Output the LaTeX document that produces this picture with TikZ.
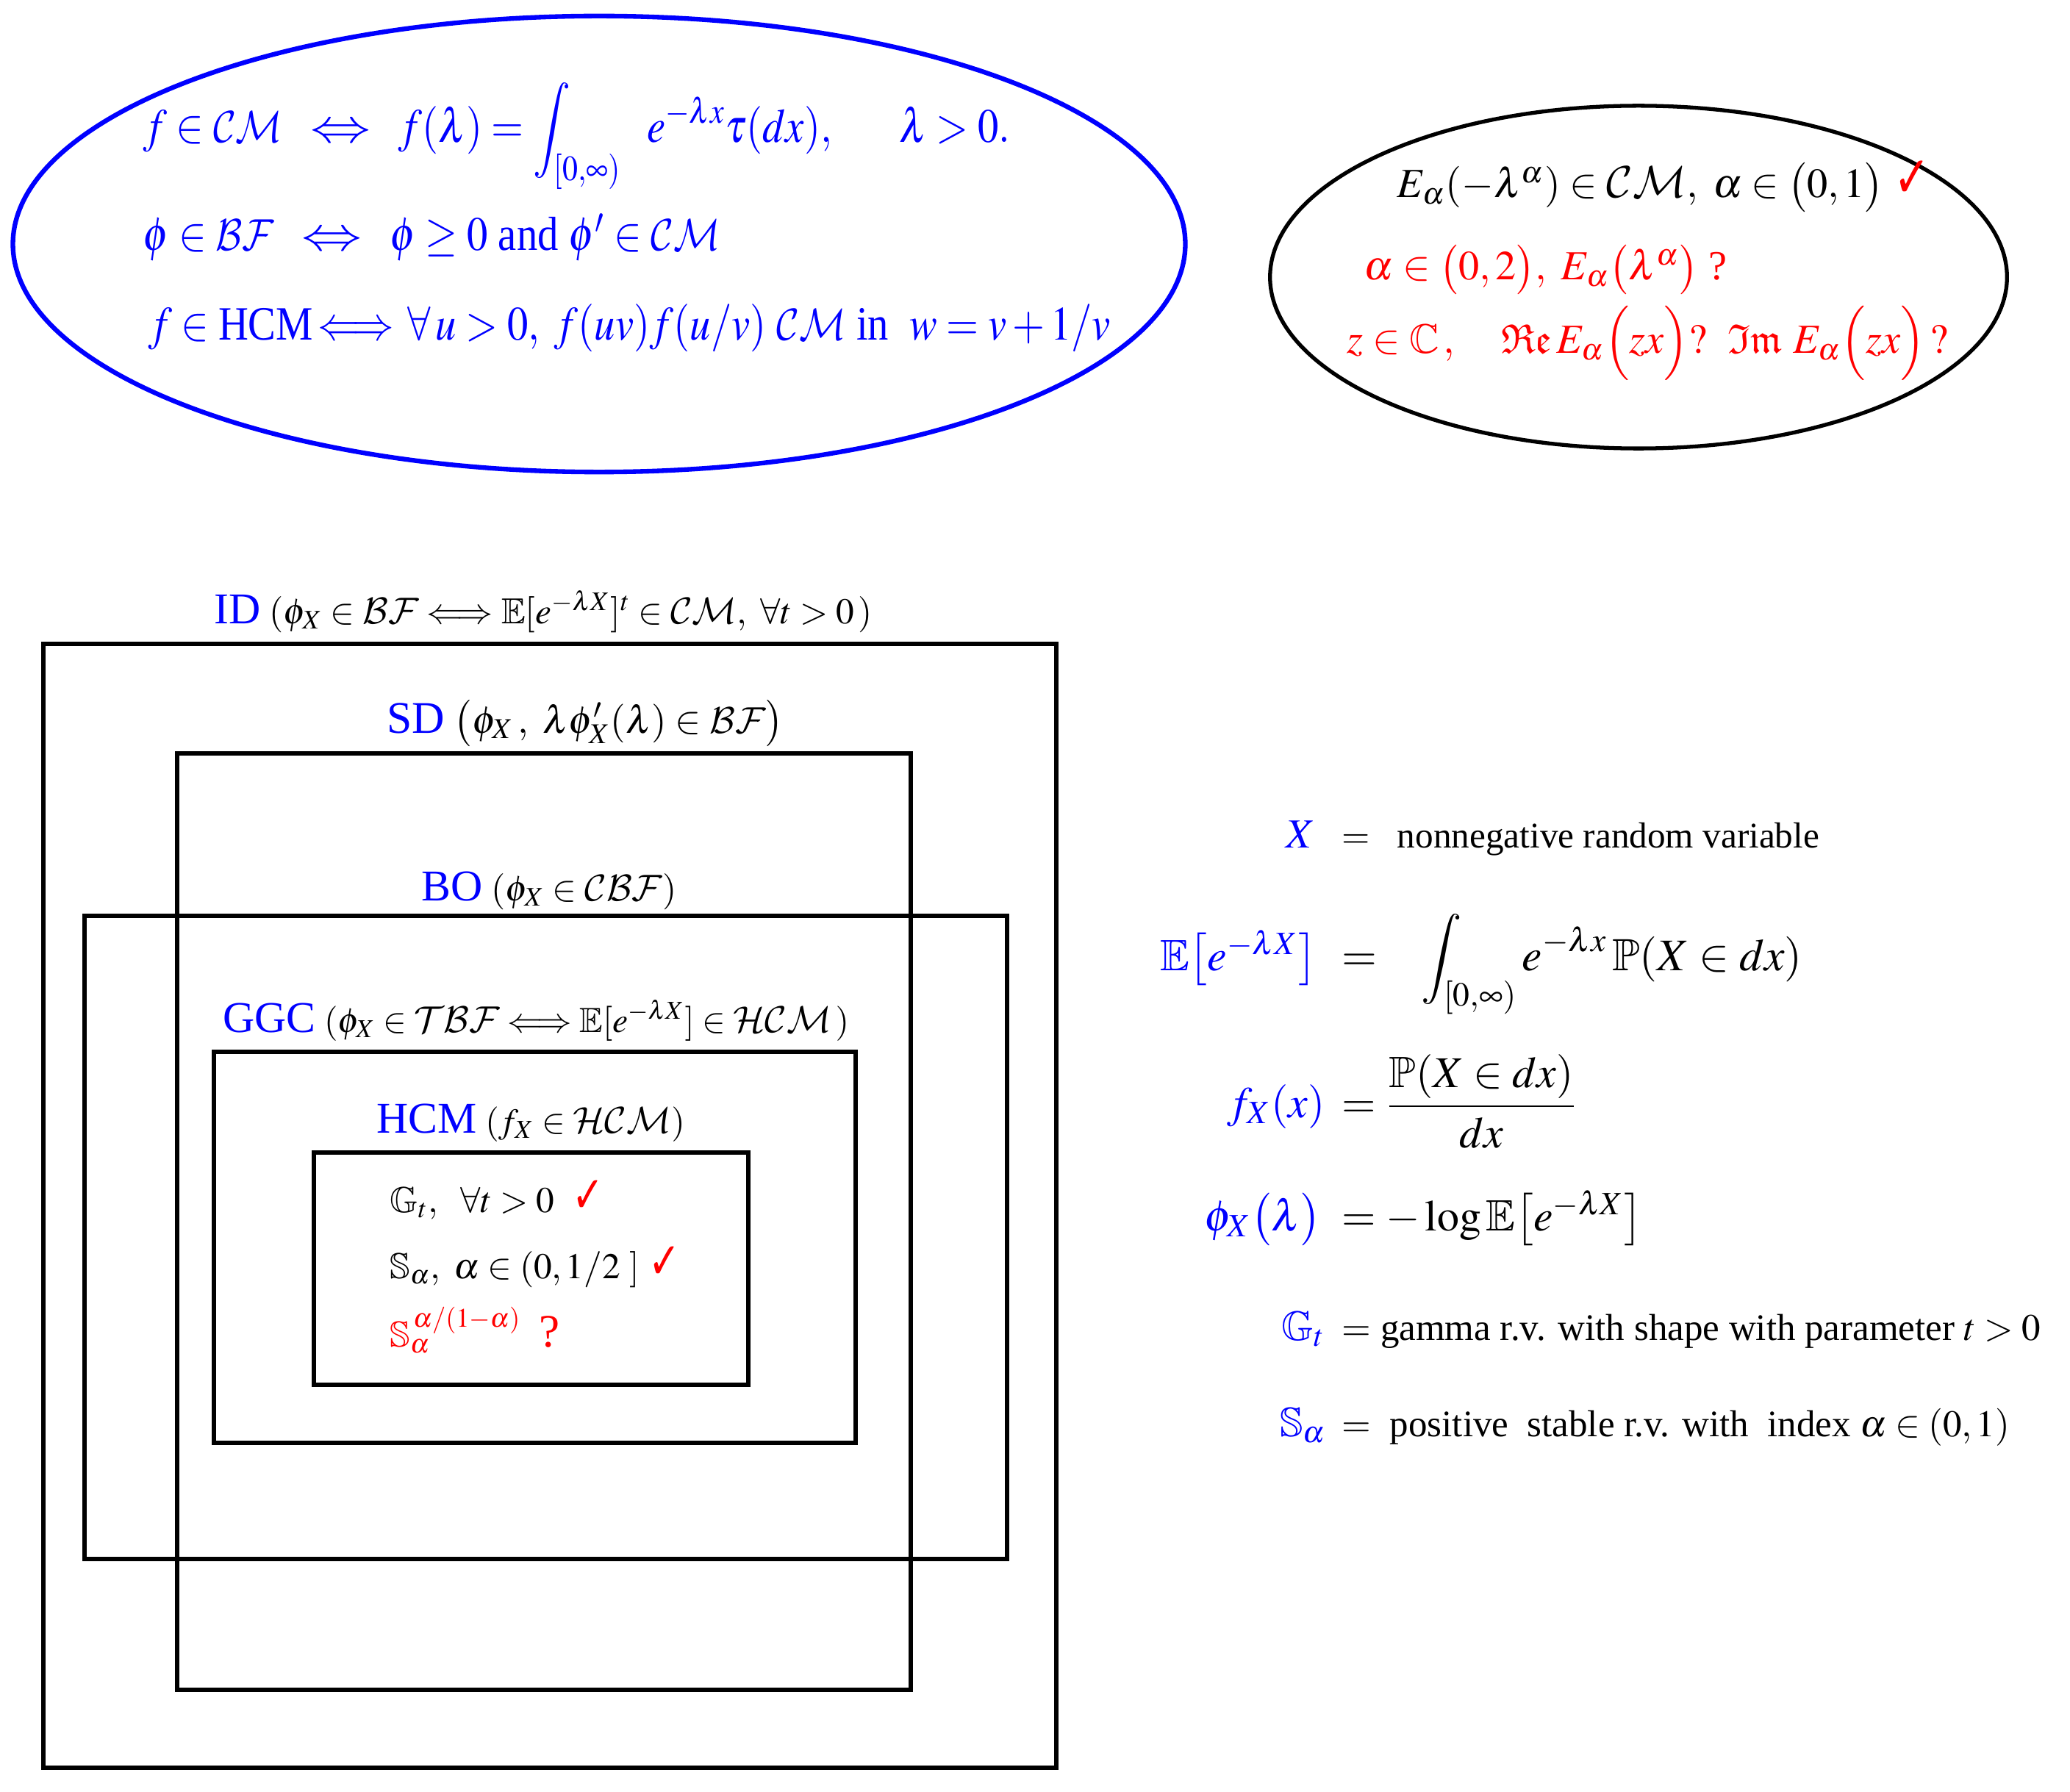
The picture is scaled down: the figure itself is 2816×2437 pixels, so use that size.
\documentclass[tikz,border=0pt]{standalone}
\usepackage{graphicx}
\usepackage{amssymb}
\usepackage{mathptmx}
\DeclareMathAlphabet{\mathcal}{OMS}{cmsy}{m}{n}
\usepackage[no-math]{fontspec}
\setmainfont{Liberation Serif}
\newfontfamily\djv{DejaVu Sans}
\usetikzlibrary{shapes.geometric}
\newcommand{\ck}{{\scalebox{1.05}[1.4]{\djv\color{red}✓}}}
\newcommand{\lrarr}{\mathrel{\mkern8mu\scalebox{1.45}[1]{$\Leftrightarrow$}\mkern8mu}}
\begin{document}
\begin{tikzpicture}[x=0.01cm,y=-0.01cm,
  setbox/.style={draw=black,line width=1.5pt},
  txt/.style={anchor=base west,inner sep=0pt,font=\fontsize{14}{17}\selectfont},
  bigtxt/.style={anchor=base west,inner sep=0pt,font=\fontsize{18.5}{22}\selectfont,text=blue},
  elltxt/.style={anchor=base west,inner sep=0pt,font=\fontsize{16}{20}\selectfont},
  lhs/.style={anchor=base east,inner sep=0pt,font=\fontsize{16}{19}\selectfont,text=blue},
  rhs/.style={anchor=base west,inner sep=0pt,font=\fontsize{14.5}{18}\selectfont},
  setlbl/.style={anchor=base,inner sep=0pt,font=\fontsize{14}{17}\selectfont}]
\useasboundingbox (0,0) rectangle (2816,2437);

% ellipses
\node[ellipse,draw=blue,line width=1.8pt,minimum width=15.94cm,minimum height=6.20cm,inner sep=0pt] (defs) at (815,332) {};
\node[ellipse,draw=black,line width=1.5pt,minimum width=10.02cm,minimum height=4.66cm,inner sep=0pt] (ml) at (2229,377) {};

% definitions in blue ellipse
\node[bigtxt] (d1) at (194,194) {\scalebox{0.87}[1]{$f \in \mathcal{CM} \lrarr f(\lambda) = \displaystyle\int_{[0,\infty)}\ \ e^{-\lambda x}\tau(dx),\quad\ \ \lambda>0.$}};
\node[bigtxt] (d2) at (194,341) {\scalebox{0.87}[1]{$\phi \in \mathcal{BF} \lrarr \phi \geq 0$ and $\phi' \in \mathcal{CM}$}};
\node[bigtxt] (d3) at (201,463) {\scalebox{0.87}[1]{$f \in{}$HCM$\,\Longleftrightarrow\, \forall\, u>0,\ f(uv)f(u/v)\ \mathcal{CM}$ in $\ w = v+1/v$}};

% Mittag-Leffler ellipse
\node[elltxt] (m1) at (1900,269) {$E_\alpha(-\lambda^\alpha) \in \mathcal{CM},\ \alpha\in\bigl(0,1\bigr)$\ \ck};
\node[elltxt,text=red] (m2) at (1855,381) {$\alpha\in\bigl(0,2\bigr),\ E_\alpha\bigl(\lambda^\alpha\bigr)$ ?};
\node[elltxt,text=red] (m3) at (1832,481) {$z\in\mathbb{C}\,,\quad \mathfrak{Re}\,E_\alpha\Bigl(zx\Bigr)?\ \ \mathfrak{Im}\ E_\alpha\Bigl(zx\Bigr)\,?$};

% nested sets
\draw[setbox] (59,876) rectangle (1437,2405);
\draw[setbox] (241,1025) rectangle (1239,2299);
\draw[setbox] (115,1246) rectangle (1370,2121);
\draw[setbox] (291,1431) rectangle (1164,1963);
\draw[setbox] (427,1568) rectangle (1018,1884);

\node[setlbl] (lID) at (739,848) {{\fontsize{17}{20}\selectfont\color{blue}ID} $(\phi_X \in \mathcal{BF} \Longleftrightarrow \mathbb{E}[e^{-\lambda X}]^t \in \mathcal{CM},\ \forall t>0\,)$};
\node[setlbl,font=\fontsize{15}{18}\selectfont] (lSD) at (796,997) {{\fontsize{17.5}{20}\selectfont\color{blue}SD} $\bigl(\phi_X\,,\ \lambda\phi_X'(\lambda)\in\mathcal{BF}\bigr)$};
\node[setlbl] (lBO) at (747,1225) {{\fontsize{17}{20}\selectfont\color{blue}BO} $(\phi_X\in\mathcal{CBF})$};
\node[setlbl,font=\fontsize{13.5}{17}\selectfont] (lGGC) at (729,1404) {{\fontsize{17}{20}\selectfont\color{blue}GGC} $(\phi_X\in\mathcal{TBF}\Longleftrightarrow \mathbb{E}[e^{-\lambda X}]\in\mathcal{HCM}\,)$};
\node[setlbl,font=\fontsize{13.5}{17}\selectfont] (lHCM) at (722,1541) {{\fontsize{17}{20}\selectfont\color{blue}HCM} $(f_X\in\mathcal{HCM})$};

\node[txt] (g1) at (530,1649) {$\mathbb{G}_t,\ \ \forall t>0$\ \ \ck};
\node[txt] (g2) at (530,1739) {$\mathbb{S}_\alpha,\ \alpha\in(0,1/2\ ]$\ \ck};
\node[txt,text=red] (g3) at (530,1832) {$\mathbb{S}_\alpha^{\,\alpha/(1-\alpha)}$\ \ {\fontsize{18}{20}\selectfont ?}};

% notation
\node[lhs] (nX) at (1790,1153) {$X$};
\node[rhs,font=\fontsize{14}{17}\selectfont] (rX) at (1825,1153) {$=$\enspace\ nonnegative random variable};
\node[lhs,font=\fontsize{17}{20}\selectfont] (nE) at (1792,1320) {$\mathbb{E}\bigl[e^{-\lambda X}\bigr]$};
\node[rhs,font=\fontsize{17.5}{20}\selectfont] (rE) at (1825,1320) {$=\ \ \ \displaystyle\int_{[0,\infty)} e^{-\lambda x}\,\mathbb{P}(X\in dx)$};
\node[lhs,font=\fontsize{17}{20}\selectfont] (nf) at (1803,1520) {$f_X(x)$};
\node[rhs,font=\fontsize{17}{20}\selectfont] (rf) at (1825,1520) {$=\displaystyle\frac{\mathbb{P}(X\in dx)}{dx}$};
\node[lhs,font=\fontsize{17}{20}\selectfont] (nphi) at (1798,1674) {$\phi_X\bigl(\lambda\bigr)$};
\node[rhs,font=\fontsize{17}{20}\selectfont] (rphi) at (1825,1674) {$=-\log\mathbb{E}\bigl[e^{-\lambda X}\bigr]$};
\node[lhs] (nG) at (1803,1823) {$\mathbb{G}_t$};
\node[rhs] (rG) at (1825,1823) {$=$ gamma r.v. with shape with parameter $t>0$};
\node[lhs] (nS) at (1805,1954) {$\mathbb{S}_\alpha$};
\node[rhs] (rS) at (1825,1954) {$=$ \ positive \ stable r.v. with \ index $\alpha\in(0,1)$};
\end{tikzpicture}
\end{document}
